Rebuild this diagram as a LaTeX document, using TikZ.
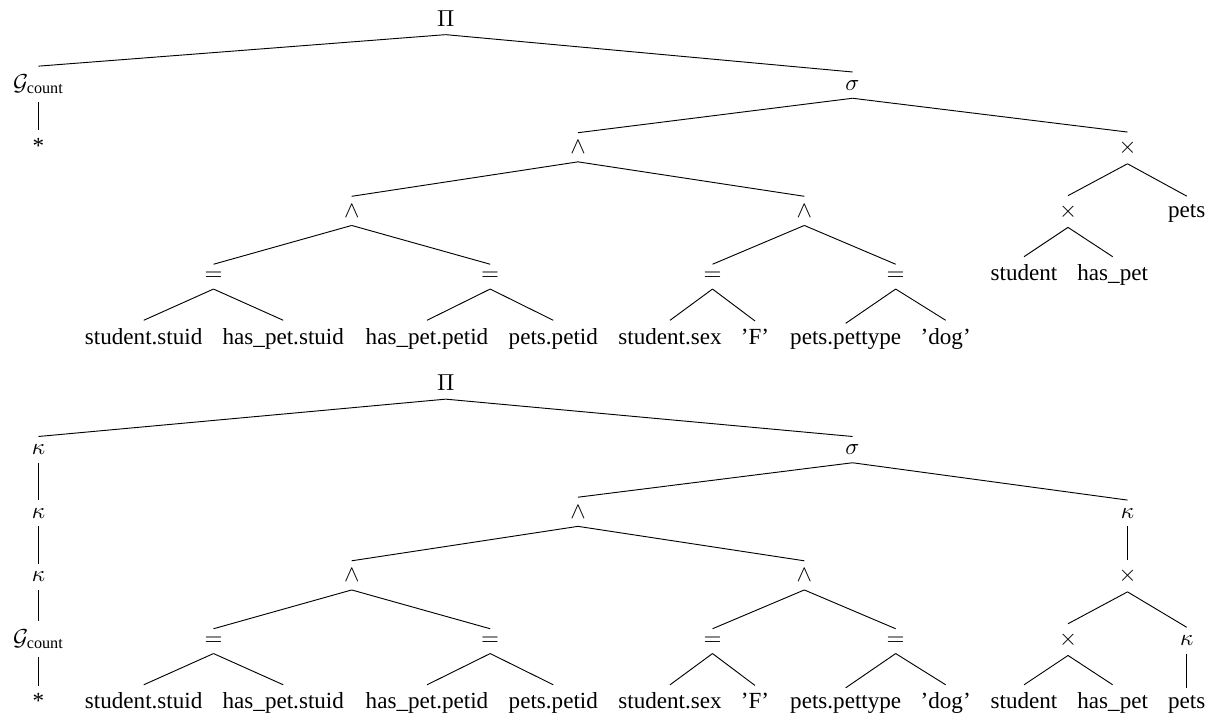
\documentclass[tikz,border=0pt]{standalone}
\usepackage{amsmath}
\usepackage{fontspec}
\setmainfont{Liberation Serif}
\begin{document}
\begin{tikzpicture}[x=0.4329pt,y=-0.4329pt]
\tikzset{
  tn/.style={anchor=base, inner sep=0.3333em, font=\fontsize{10}{12}\selectfont},
  br/.style={draw=black, line width=0.4pt}
}
\useasboundingbox (0,0) rectangle (1216,717);
% ---------------- top tree ----------------
\node[tn] (tP)    at (445.7,26.5)  {$\Pi$};
\node[tn] (tG)    at (38.5,90.1)   {$\mathcal{G}_{\text{count}}$};
\node[tn] (tS)    at (852.5,90.1)  {$\sigma$};
\node[tn] (tStar) at (38.5,153.7)  {*};
\node[tn] (tA)    at (578,153.7)   {$\wedge$};
\node[tn] (tX)    at (1127.5,153.7){$\times$};
\node[tn] (tA1)   at (351.7,217.3) {$\wedge$};
\node[tn] (tA2)   at (804.3,217.3) {$\wedge$};
\node[tn] (tX2)   at (1068,217.3)  {$\times$};
\node[tn] (tpets) at (1186.7,217.3){pets};
\node[tn] (tE1)   at (213.5,280.9) {$=$};
\node[tn] (tE2)   at (490.2,280.9) {$=$};
\node[tn] (tE3)   at (712.5,280.9) {$=$};
\node[tn] (tE4)   at (895.7,280.9) {$=$};
\node[tn] (tstu)  at (1024,280.9)  {student};
\node[tn] (thas)  at (1112.7,280.9){has\_pet};
\node[tn] (tL1)   at (143.7,344.5) {student.stuid};
\node[tn] (tL2)   at (283.3,344.5) {has\_pet.stuid};
\node[tn] (tL3)   at (427,344.5)   {has\_pet.petid};
\node[tn] (tL4)   at (553.3,344.5) {pets.petid};
\node[tn] (tL5)   at (670,344.5)   {student.sex};
\node[tn] (tL6)   at (755,344.5)   {'F'};
\node[tn] (tL7)   at (845.7,344.5) {pets.pettype};
\node[tn] (tL8)   at (945.7,344.5) {'dog'};
\foreach \p/\c in {tP/tG,tP/tS,tG/tStar,tS/tA,tS/tX,tA/tA1,tA/tA2,tX/tX2,tX/tpets,
  tA1/tE1,tA1/tE2,tA2/tE3,tA2/tE4,tX2/tstu,tX2/thas,
  tE1/tL1,tE1/tL2,tE2/tL3,tE2/tL4,tE3/tL5,tE3/tL6,tE4/tL7,tE4/tL8}
  \draw[br] (\p.south) -- (\c.north);
% ---------------- bottom tree ----------------
\node[tn] (bP)    at (445.7,391)   {$\Pi$};
\node[tn] (bK1)   at (38.5,454.6)  {$\kappa$};
\node[tn] (bS)    at (852.5,454.6) {$\sigma$};
\node[tn] (bK2)   at (38.5,518.2)  {$\kappa$};
\node[tn] (bA)    at (578,518.2)   {$\wedge$};
\node[tn] (bK)    at (1127.5,518.2){$\kappa$};
\node[tn] (bK3)   at (38.5,581.8)  {$\kappa$};
\node[tn] (bA1)   at (351.7,581.8) {$\wedge$};
\node[tn] (bA2)   at (804.3,581.8) {$\wedge$};
\node[tn] (bX)    at (1127.5,581.8){$\times$};
\node[tn] (bG)    at (38.5,645.4)  {$\mathcal{G}_{\text{count}}$};
\node[tn] (bE1)   at (213.5,645.4) {$=$};
\node[tn] (bE2)   at (490.2,645.4) {$=$};
\node[tn] (bE3)   at (712.5,645.4) {$=$};
\node[tn] (bE4)   at (895.7,645.4) {$=$};
\node[tn] (bX2)   at (1068,645.4)  {$\times$};
\node[tn] (bKp)   at (1186.7,645.4){$\kappa$};
\node[tn] (bStar) at (38.5,709)    {*};
\node[tn] (bL1)   at (143.7,709)   {student.stuid};
\node[tn] (bL2)   at (283.3,709)   {has\_pet.stuid};
\node[tn] (bL3)   at (427,709)     {has\_pet.petid};
\node[tn] (bL4)   at (553.3,709)   {pets.petid};
\node[tn] (bL5)   at (670,709)     {student.sex};
\node[tn] (bL6)   at (755,709)     {'F'};
\node[tn] (bL7)   at (845.7,709)   {pets.pettype};
\node[tn] (bL8)   at (945.7,709)   {'dog'};
\node[tn] (bstu)  at (1024,709)    {student};
\node[tn] (bhas)  at (1112.7,709)  {has\_pet};
\node[tn] (bpets) at (1186.7,709)  {pets};
\foreach \p/\c in {bP/bK1,bP/bS,bK1/bK2,bK2/bK3,bK3/bG,bG/bStar,
  bS/bA,bS/bK,bA/bA1,bA/bA2,bK/bX,
  bA1/bE1,bA1/bE2,bA2/bE3,bA2/bE4,bX/bX2,bX/bKp,
  bE1/bL1,bE1/bL2,bE2/bL3,bE2/bL4,bE3/bL5,bE3/bL6,bE4/bL7,bE4/bL8,
  bX2/bstu,bX2/bhas,bKp/bpets}
  \draw[br] (\p.south) -- (\c.north);
\end{tikzpicture}
\end{document}
